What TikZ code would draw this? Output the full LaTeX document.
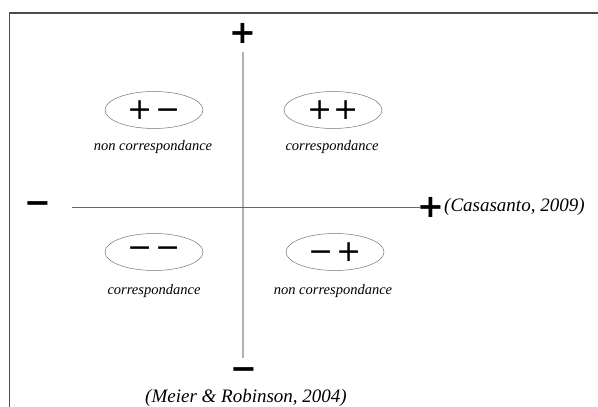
\documentclass[tikz,border=0pt]{standalone}
\usepackage{fontspec}
\usetikzlibrary{shapes.geometric}
\setmainfont{Liberation Serif}
\newfontfamily\signfont{DejaVu Sans}
\begin{document}
\begin{tikzpicture}[x=1pt,y=-1pt,
  sign/.style={inner sep=0pt, font=\signfont\bfseries\fontsize{32}{32}\selectfont},
  pair/.style={draw=black!55, line width=0.5pt, ellipse, minimum width=98pt, minimum height=37pt, inner sep=0pt, font=\signfont\fontsize{30}{30}\selectfont},
  tag/.style={inner sep=0pt, font=\itshape\fontsize{14.5}{14.5}\selectfont},
  ref/.style={inner sep=0pt, anchor=west, font=\itshape\fontsize{19}{19}\selectfont}]
  \useasboundingbox (0,0) rectangle (598,407);
  % frame, open to the right and bottom
  \draw[black!70, line width=1.2pt] (9.5,407) -- (9.5,13) -- (598,13);
  % axis end signs
  \node[sign] (vtop) at (243,33) {+};
  \node[sign] (vbot) at (244,374) {−};
  \node[sign] (hleft) at (38,208) {−};
  \node[sign] (hright) at (431,207) {+};
  \coordinate (vt) at (243,52);
  \coordinate (vb) at (243,358);
  \coordinate (hl) at (72,207);
  \coordinate (hr) at (421,207);
  % axes
  \draw[black!30, line width=2pt] (vt) -- (vb);
  \draw[black!60, line width=0.8pt] (hl) -- (hr);
  % quadrant pairs
  \node[pair] (pm) at (154,110) {+\kern3pt−};
  \node[pair] (pp) at (333,110) {++};
  \node[pair] (mm) at (154,252) {−\kern3pt−};
  \node[pair] (mp) at (335,252) {−\kern3pt+};
  \node[tag] (tpm) at (153,147) {non correspondance};
  \node[tag] (tpp) at (332,147) {correspondance};
  \node[tag] (tmm) at (154,291) {correspondance};
  \node[tag] (tmp) at (333,291) {non correspondance};
  % references
  \node[ref] (cas) at (444,207) {(Casasanto, 2009)};
  \node[ref, anchor=center] (mei) at (246,398) {(Meier \& Robinson, 2004)};
\end{tikzpicture}
\end{document}
